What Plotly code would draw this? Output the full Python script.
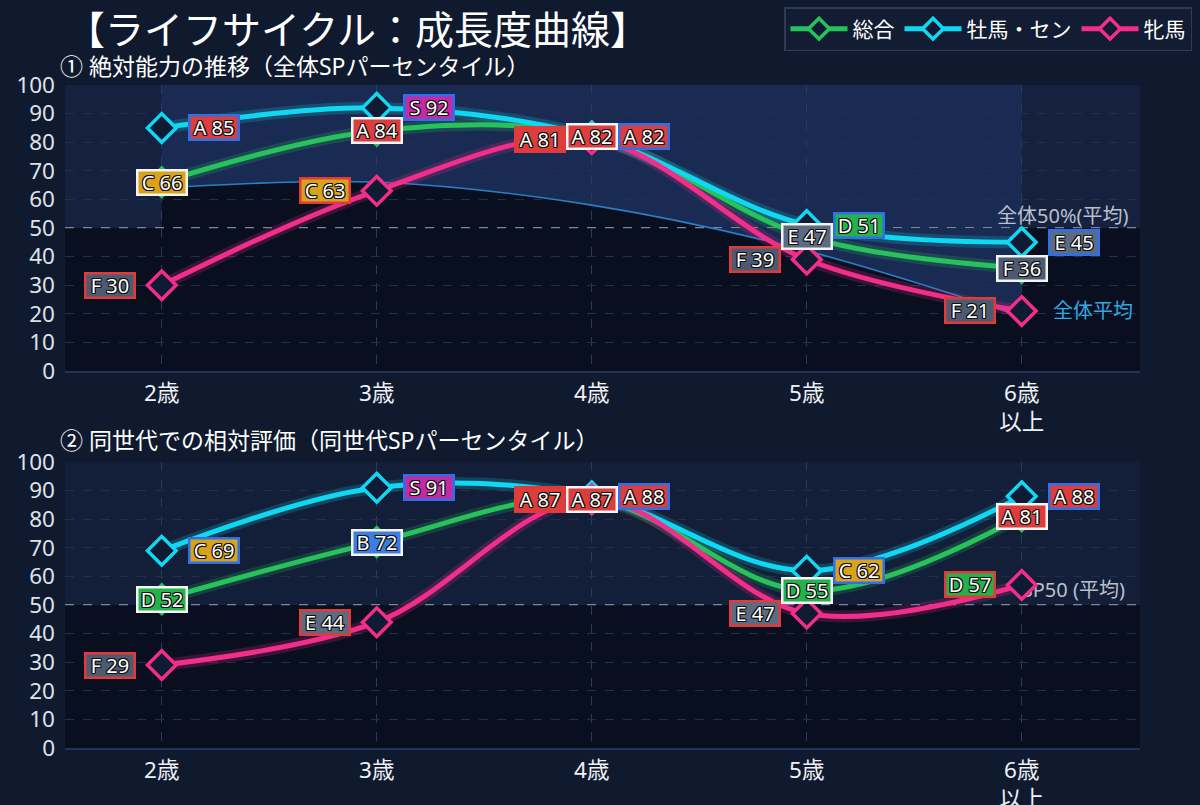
import plotly.graph_objects as go

# ---------------- data ----------------
ages = ["2歳", "3歳", "4歳", "5歳", "6歳<br>以上"]
series_names = ["総合", "牡馬・セン", "牝馬"]

abs_total = [66, 84, 82, 47, 36]
abs_total_grade = ["C", "A", "A", "E", "F"]
abs_male = [85, 92, 82, 51, 45]
abs_male_grade = ["A", "S", "A", "D", "E"]
abs_female = [30, 63, 81, 39, 21]
abs_female_grade = ["F", "C", "A", "F", "F"]
abs_overall_avg = [64, 66, 58, 42, 19]

rel_total = [52, 72, 87, 55, 81]
rel_total_grade = ["D", "B", "A", "D", "A"]
rel_male = [69, 91, 88, 62, 88]
rel_male_grade = ["C", "S", "A", "C", "A"]
rel_female = [29, 44, 87, 47, 57]
rel_female_grade = ["F", "E", "A", "E", "D"]

y_ticks = list(range(0, 101, 10))
avg_level = 50

# ---------------- style ----------------
W, H = 1200, 805
ML, MR, MT, MB = 65, 60, 85, 57
PW, PH = W - ML - MR, H - MT - MB
X_RANGE = [-0.45, 4.55]

def px(xp):
    return (xp - ML) / PW

def py(yp):
    return (H - MB - yp) / PH

TOP_DOM = [py(371), 1.0]
BOT_DOM = [0.0, py(462)]

PAGE_BG = "#101a2e"
BAND_HI = "#15213f"
BAND_HI_BOT = "#131e39"
BAND_LO = "#0a0f1f"
FILL_LIGHT = "#192b52"
FONT = "Noto Sans, Noto Sans CJK JP, sans-serif"

line_colors = ["#27c25c", "#11d8f2", "#f22d8a"]
glow_colors = ["rgba(39,194,92,0.2)", "rgba(17,216,242,0.2)", "rgba(242,45,138,0.2)"]
border_colors = ["#f4f4f4", "#2f6fe8", "#e23a3a"]
label_shift = [0, 52, -52]
grade_fill = {"S": "#c42aa6", "A": "#dc3d3d", "B": "#3a7ee2", "C": "#d9a21b",
              "D": "#24b24d", "E": "#5c6a82", "F": "#4d5b72"}
MARKER_FILL = "#0f1a33"

xs = list(range(len(ages)))

fig = go.Figure()

# ---- top, background fill layer (hidden axes x/y) ----
fig.add_trace(go.Scatter(x=xs, y=abs_overall_avg, mode="lines", line=dict(width=0, shape="spline"),
                         fill="tozeroy", fillcolor=BAND_LO, xaxis="x", yaxis="y",
                         showlegend=False, hoverinfo="skip"))
fig.add_trace(go.Scatter(x=xs, y=[y_ticks[-1]] * len(xs), mode="lines", line=dict(width=0),
                         fill="tonexty", fillcolor=FILL_LIGHT, xaxis="x", yaxis="y",
                         showlegend=False, hoverinfo="skip"))

# ---- top main ----
fig.add_trace(go.Scatter(x=xs, y=abs_overall_avg, mode="lines",
                         line=dict(width=1.6, shape="spline", color="#2a7fc4"),
                         xaxis="x2", yaxis="y2", showlegend=False, hoverinfo="skip"))

abs_series = [abs_total, abs_male, abs_female]
abs_grades = [abs_total_grade, abs_male_grade, abs_female_grade]
rel_series = [rel_total, rel_male, rel_female]
rel_grades = [rel_total_grade, rel_male_grade, rel_female_grade]

# text under markers for bottom chart
fig.add_trace(go.Scatter(x=[xs[-1]], y=[54.5], mode="text", text=["SP50 (平均)"],
                         textposition="middle right",
                         textfont=dict(family=FONT, size=20, color="#b9c0cc"),
                         xaxis="x3", yaxis="y3", showlegend=False, hoverinfo="skip"))

for ax, ser in (("2", abs_series), ("3", rel_series)):
    for k in range(3):
        fig.add_trace(go.Scatter(x=xs, y=ser[k], mode="lines",
                                 line=dict(width=12, shape="spline", color=glow_colors[k]),
                                 xaxis="x" + ax, yaxis="y" + ax, showlegend=False, hoverinfo="skip"))
    for k in range(3):
        fig.add_trace(go.Scatter(x=xs, y=ser[k], mode="lines+markers", name=series_names[k],
                                 line=dict(width=5, shape="spline", color=line_colors[k]),
                                 marker=dict(symbol="diamond", size=22, color=MARKER_FILL,
                                             line=dict(width=3.5, color=line_colors[k])),
                                 xaxis="x" + ax, yaxis="y" + ax,
                                 showlegend=(ax == "2"), legendgroup=series_names[k]))

# ---------------- annotations ----------------
OUT = "#111111"
SHADOW = ", ".join(f"{dx}px {dy}px 0 {OUT}" for dx, dy in
                   ((-1, -1), (1, -1), (-1, 1), (1, 1), (0, 1), (0, -1), (1, 0), (-1, 0)))
annotations = []
for ax, ser, grs in (("2", abs_series, abs_grades), ("3", rel_series, rel_grades)):
    for k in (1, 2, 0):
        for i in xs:
            g = grs[k][i]
            v = ser[k][i]
            annotations.append(dict(
                xref="x" + ax, yref="y" + ax, x=i, y=v, xshift=label_shift[k],
                text=f"{g} {v}", showarrow=False, bgcolor=grade_fill[g],
                bordercolor=border_colors[k], borderwidth=2.5, borderpad=1,
                width=45, height=20, align="center", valign="middle",
                font=dict(family=FONT, size=20, color="#ffffff", shadow=SHADOW)))

annotations += [
    dict(xref="paper", yref="paper", x=px(64), y=py(28), xanchor="left", yanchor="middle",
         text="【ライフサイクル：成長度曲線】", showarrow=False,
         font=dict(family=FONT, size=39, color="#ffffff")),
    dict(xref="paper", yref="paper", x=px(58), y=py(66), xanchor="left", yanchor="middle",
         text="① 絶対能力の推移（全体SPパーセンタイル）", showarrow=False,
         font=dict(family=FONT, size=23, color="#ffffff")),
    dict(xref="paper", yref="paper", x=px(58), y=py(440), xanchor="left", yanchor="middle",
         text="② 同世代での相対評価（同世代SPパーセンタイル）", showarrow=False,
         font=dict(family=FONT, size=23, color="#ffffff")),
    dict(xref="x2", yref="y2", x=xs[-1], y=54.5, xshift=41, xanchor="center", yanchor="middle",
         text="全体50%(平均)", showarrow=False,
         font=dict(family=FONT, size=20, color="#b9c0cc")),
    dict(xref="x2", yref="y2", x=xs[-1], y=abs_overall_avg[-1] + 2, xshift=29, xanchor="left",
         yanchor="middle", text="全体平均", showarrow=False,
         font=dict(family=FONT, size=20, color="#35a7e2")),
]

# ---------------- shapes ----------------
shapes = [
    dict(type="rect", xref="x", yref="y", x0=X_RANGE[0], x1=X_RANGE[1], y0=avg_level, y1=y_ticks[-1],
         fillcolor=BAND_HI, line=dict(width=0), layer="below"),
    dict(type="rect", xref="x", yref="y", x0=X_RANGE[0], x1=X_RANGE[1], y0=0, y1=avg_level,
         fillcolor=BAND_LO, line=dict(width=0), layer="below"),
    dict(type="rect", xref="x3", yref="y3", x0=X_RANGE[0], x1=X_RANGE[1], y0=avg_level, y1=y_ticks[-1],
         fillcolor=BAND_HI_BOT, line=dict(width=0), layer="below"),
    dict(type="rect", xref="x3", yref="y3", x0=X_RANGE[0], x1=X_RANGE[1], y0=0, y1=avg_level,
         fillcolor=BAND_LO, line=dict(width=0), layer="below"),
]
for ax in ("2", "3"):
    shapes.append(dict(type="line", xref="x" + ax, yref="y" + ax, x0=X_RANGE[0], x1=X_RANGE[1],
                       y0=avg_level, y1=avg_level, layer="below",
                       line=dict(color="#7c8699", width=2, dash="dash")))

# ---------------- axes ----------------
def xaxis(anchor, visible=True):
    return dict(range=X_RANGE, domain=[0, 1], anchor=anchor, visible=visible,
                tickmode="array", tickvals=xs, ticktext=ages, ticks="",
                showgrid=True, gridcolor="#2b3a5a", griddash="dash", gridwidth=1,
                zeroline=False, showline=True, linecolor="#22325a", linewidth=2,
                tickfont=dict(family=FONT, size=22.5, color="#eef1f6"), ticklabelstandoff=1,
                fixedrange=True, automargin=False)

def yaxis(anchor, dom, visible=True):
    return dict(range=[0, 100], domain=dom, anchor=anchor, visible=visible,
                tickmode="array", tickvals=y_ticks, ticks="",
                showgrid=True, gridcolor="#222f4c", griddash="dash", gridwidth=1,
                zeroline=False, showline=False,
                tickfont=dict(family=FONT, size=22.5, color="#dde2ea"), ticklabelstandoff=9,
                fixedrange=True, automargin=False)

fig.update_layout(
    width=W, height=H, autosize=False,
    margin=dict(l=ML, r=MR, t=MT, b=MB, autoexpand=False),
    paper_bgcolor=PAGE_BG, plot_bgcolor="rgba(0,0,0,0)",
    font=dict(family=FONT, color="#ffffff"),
    xaxis=xaxis("y", visible=False), yaxis=yaxis("x", TOP_DOM, visible=False),
    xaxis2=xaxis("y2"), yaxis2=yaxis("x2", TOP_DOM),
    xaxis3=xaxis("y3"), yaxis3=yaxis("x3", BOT_DOM),
    showlegend=True,
    legend=dict(orientation="h", xref="container", yref="container",
                x=1192 / W, xanchor="right", y=1 - 7 / H, yanchor="top",
                bgcolor="#121c32", bordercolor="#2e3b57", borderwidth=1.5,
                font=dict(family=FONT, size=21, color="#ffffff"),
                itemwidth=57, traceorder="normal"),
    annotations=annotations,
    shapes=shapes,
    hovermode=False,
)

fig.write_html("out.html")
